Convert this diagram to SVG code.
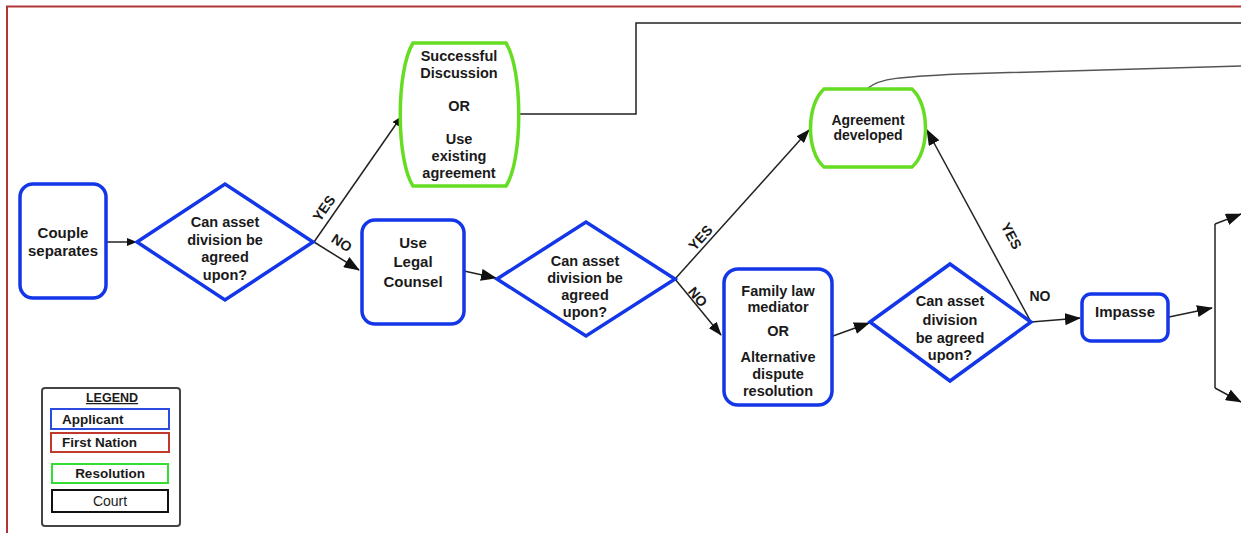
<svg xmlns="http://www.w3.org/2000/svg" width="1241" height="533" viewBox="0 0 1241 533">
<style>
text{font-family:"Liberation Sans",Arial,sans-serif;font-weight:bold;fill:#1a1a1a;text-anchor:middle}
.n{font-size:14.5px}
.ap{fill:#fff;stroke:#1236e8;stroke-width:3.5}
.rs{fill:#fff;stroke:#66dd22;stroke-width:3.5}
.c{fill:none;stroke:#222;stroke-width:1.5}
.lb{font-size:14px}
</style>
<defs>
<marker id="ah" viewBox="0 0 14 10" refX="13" refY="5" markerWidth="14" markerHeight="10" markerUnits="userSpaceOnUse" orient="auto">
<path d="M0,0 L14,5 L0,10 Z" fill="#111"/>
</marker>
<marker id="ahb" viewBox="0 0 16 12" refX="15" refY="6" markerWidth="16" markerHeight="12" markerUnits="userSpaceOnUse" orient="auto">
<path d="M0,0 L16,6 L0,12 Z" fill="#111"/>
</marker>
<marker id="ahs" viewBox="0 0 10 8" refX="9" refY="4" markerWidth="10" markerHeight="8" markerUnits="userSpaceOnUse" orient="auto">
<path d="M0,0 L10,4 L0,8 Z" fill="#111"/>
</marker>
</defs>
<rect width="1241" height="533" fill="#fff"/>
<path d="M7,533 V6.5 H1241" fill="none" stroke="#b03535" stroke-width="2"/>

<g id="connectors">
<line class="c" x1="107" y1="242" x2="136" y2="242" marker-end="url(#ahs)"/>
<line class="c" x1="314" y1="242" x2="401" y2="117" marker-end="url(#ahs)"/>
<line class="c" x1="314" y1="242" x2="359" y2="270" marker-end="url(#ahb)"/>
<path class="c" d="M516,114 H636 V23 H1241" stroke="#333" stroke-width="2"/>
<line class="c" x1="464" y1="271" x2="496" y2="278" marker-end="url(#ahb)"/>
<line class="c" x1="675" y1="279" x2="809" y2="130" marker-end="url(#ah)"/>
<line class="c" x1="675" y1="279" x2="721" y2="335" marker-end="url(#ah)"/>
<path d="M868,88 C880,78 900,77 960,74 L1241,66" fill="none" stroke="#555" stroke-width="1.5"/>
<line class="c" x1="833" y1="336" x2="869" y2="323" marker-end="url(#ahb)"/>
<line class="c" x1="1031" y1="322" x2="927" y2="130" marker-end="url(#ahb)"/>
<line class="c" x1="1031" y1="322" x2="1080" y2="318" marker-end="url(#ahb)"/>
<line class="c" x1="1169" y1="317" x2="1212" y2="308" marker-end="url(#ahb)"/>
<path class="c" d="M1215,224 V388"/>
<line class="c" x1="1215" y1="224" x2="1241" y2="214" marker-end="url(#ahb)"/>
<line class="c" x1="1215" y1="388" x2="1241" y2="402" marker-end="url(#ahb)"/>
<text class="lb" transform="translate(328,211) rotate(-55)">YES</text>
<text class="lb" transform="translate(339,247) rotate(33)">NO</text>
<text class="lb" transform="translate(704,241) rotate(-48)">YES</text>
<text class="lb" transform="translate(694,300) rotate(50)">NO</text>
<text class="lb" transform="translate(1007,238) rotate(62)">YES</text>
<text class="lb" x="1040" y="301">NO</text>
</g>

<g id="couple">
<rect class="ap" x="20" y="184" width="86" height="114" rx="13"/>
<text font-size="15" x="63" y="238">Couple</text>
<text font-size="15" x="63" y="256">separates</text>
</g>

<g id="decision1">
<polygon class="ap" points="137,242 225,184 313,242 225,300"/>
<text class="n" x="225" y="227">Can asset</text>
<text class="n" x="225" y="245">division be</text>
<text class="n" x="225" y="262">agreed</text>
<text class="n" x="225" y="280">upon?</text>
</g>

<g id="successful">
<path class="rs" d="M413,43 H506 C523,70 523,160 506,186 H413 C396,160 396,70 413,43 Z"/>
<text class="n" x="459" y="61">Successful</text>
<text class="n" x="459" y="78">Discussion</text>
<text class="n" x="459" y="111">OR</text>
<text class="n" x="459" y="144">Use</text>
<text class="n" x="459" y="161">existing</text>
<text class="n" x="459" y="178">agreement</text>
</g>

<g id="legal">
<rect class="ap" x="362" y="220" width="102" height="104" rx="13"/>
<text font-size="15" x="413" y="248">Use</text>
<text font-size="15" x="413" y="267">Legal</text>
<text font-size="15" x="413" y="287">Counsel</text>
</g>

<g id="decision2">
<polygon class="ap" points="497,279 586,222 675,279 586,336"/>
<text class="n" x="585" y="266">Can asset</text>
<text class="n" x="585" y="283">division be</text>
<text class="n" x="585" y="300">agreed</text>
<text class="n" x="585" y="317">upon?</text>
</g>

<g id="agreement">
<path class="rs" d="M824,89 H912 C930,105 930,152 912,167 H824 C806,152 806,105 824,89 Z"/>
<text font-size="14" x="868" y="125">Agreement</text>
<text font-size="14" x="868" y="140">developed</text>
</g>

<g id="family">
<rect class="ap" x="724" y="269" width="108" height="136" rx="14"/>
<text class="n" x="778" y="296">Family law</text>
<text class="n" x="778" y="312">mediator</text>
<text class="n" x="778" y="336">OR</text>
<text class="n" x="778" y="362">Alternative</text>
<text class="n" x="778" y="379">dispute</text>
<text class="n" x="778" y="396">resolution</text>
</g>

<g id="decision3">
<polygon class="ap" points="870,322 950,264 1031,322 950,381"/>
<text class="n" x="950" y="306">Can asset</text>
<text class="n" x="950" y="325">division</text>
<text class="n" x="950" y="343">be agreed</text>
<text class="n" x="950" y="360">upon?</text>
</g>

<g id="impasse">
<rect class="ap" x="1082" y="294" width="86" height="47" rx="9"/>
<text font-size="15" x="1125" y="317">Impasse</text>
</g>

<g id="legend">
<rect x="42" y="388" width="138" height="138" rx="3" fill="#fff" stroke="#444" stroke-width="2"/>
<text font-size="12.5" x="112" y="402" text-decoration="underline">LEGEND</text>
<rect x="51" y="409" width="118" height="20" fill="#fff" stroke="#2a4de0" stroke-width="2"/>
<text font-size="13.5" x="62" y="424" style="text-anchor:start">Applicant</text>
<rect x="51" y="433" width="118" height="19" fill="#fff" stroke="#c0392b" stroke-width="2"/>
<text font-size="13.5" x="62" y="447" style="text-anchor:start">First Nation</text>
<rect x="52" y="464" width="116" height="19" fill="#fff" stroke="#33dd33" stroke-width="2"/>
<text font-size="13.5" x="110" y="478">Resolution</text>
<rect x="52" y="490" width="116" height="22" fill="#fff" stroke="#111" stroke-width="2"/>
<text font-size="14" x="110" y="506" style="font-weight:normal">Court</text>
</g>
</svg>
